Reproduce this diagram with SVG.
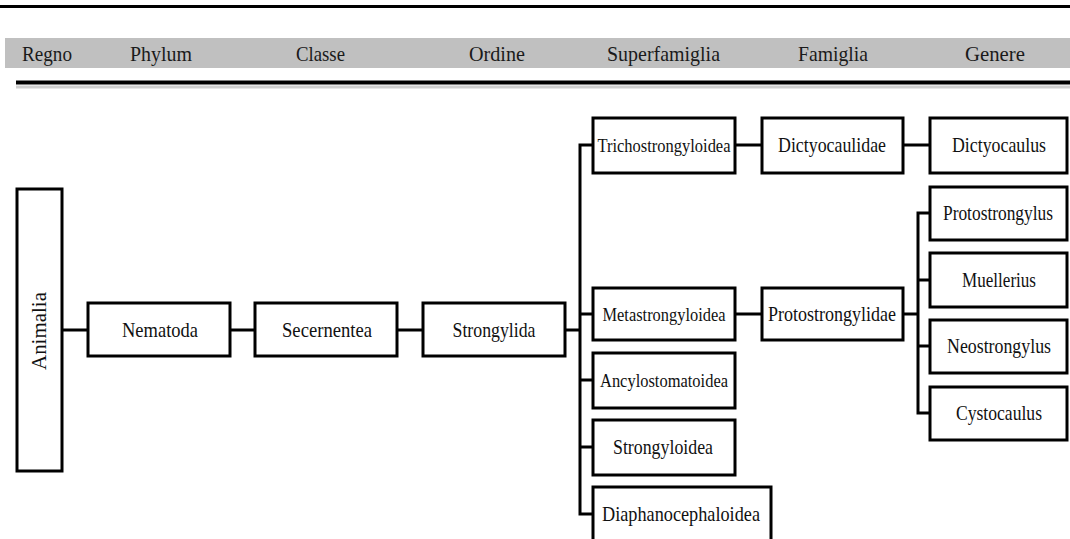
<svg xmlns="http://www.w3.org/2000/svg" width="1070" height="539" viewBox="0 0 1070 539">
<style>
  .box { fill: #ffffff; stroke: #000000; stroke-width: 3; }
  .lbl { font-family: "Liberation Serif", "Times New Roman", serif; font-size: 21px; fill: #111111; text-anchor: middle; }
  .sm { font-size: 19.5px; }
  .hdr { font-family: "Liberation Serif", "Times New Roman", serif; font-size: 22px; fill: #1a1a1a; }
  .con { fill: none; stroke: #000000; stroke-width: 3; stroke-linejoin: miter; }
</style>
<rect x="0" y="0" width="1070" height="539" fill="#ffffff"/>
<g id="header">
  <line x1="0" y1="6.5" x2="1070" y2="6.5" stroke="#000" stroke-width="3"/>
  <rect x="5" y="38" width="1065" height="30" fill="#c0c0c0"/>
  <line x1="16" y1="87" x2="1070" y2="87" stroke="#bbbbbb" stroke-width="3" opacity="0.7"/>
  <line x1="16" y1="82.5" x2="1070" y2="82.5" stroke="#000" stroke-width="4"/>
  <text class="hdr" x="22" y="61" textLength="50" lengthAdjust="spacingAndGlyphs">Regno</text>
  <text class="hdr" x="130" y="61" textLength="62" lengthAdjust="spacingAndGlyphs">Phylum</text>
  <text class="hdr" x="296" y="61" textLength="49" lengthAdjust="spacingAndGlyphs">Classe</text>
  <text class="hdr" x="469" y="61" textLength="56" lengthAdjust="spacingAndGlyphs">Ordine</text>
  <text class="hdr" x="607" y="61" textLength="113" lengthAdjust="spacingAndGlyphs">Superfamiglia</text>
  <text class="hdr" x="798" y="61" textLength="70" lengthAdjust="spacingAndGlyphs">Famiglia</text>
  <text class="hdr" x="965" y="61" textLength="60" lengthAdjust="spacingAndGlyphs">Genere</text>
</g>
<g id="connectors">
  <path class="con" d="M62,330 H88 M230,330 H255 M397,330 H423 M565,330 H580"/>
  <path class="con" d="M593,145 H580 V514 H593 M580,314 H593 M580,380 H593 M580,447 H593"/>
  <path class="con" d="M735,145 H762 M903,145 H930"/>
  <path class="con" d="M735,314 H762 M903,314 H918"/>
  <path class="con" d="M930,213 H918 V413 H930 M918,280 H930 M918,346 H930"/>
</g>
<g id="n-animalia">
  <rect class="box" x="17" y="189" width="45" height="282"/>
  <text class="lbl" transform="translate(46,331) rotate(-90)" x="0" y="0" textLength="78" lengthAdjust="spacingAndGlyphs">Animalia</text>
</g>
<g id="n-nematoda">
  <rect class="box" x="88" y="303" width="142" height="53"/>
  <text class="lbl" x="160" y="337" textLength="76" lengthAdjust="spacingAndGlyphs">Nematoda</text>
</g>
<g id="n-secernentea">
  <rect class="box" x="255" y="303" width="142" height="53"/>
  <text class="lbl" x="327" y="337" textLength="90" lengthAdjust="spacingAndGlyphs">Secernentea</text>
</g>
<g id="n-strongylida">
  <rect class="box" x="423" y="303" width="142" height="53"/>
  <text class="lbl" x="494" y="337" textLength="83" lengthAdjust="spacingAndGlyphs">Strongylida</text>
</g>
<g id="n-trichostrongyloidea">
  <rect class="box" x="593" y="118" width="142" height="55"/>
  <text class="lbl sm" x="664" y="152" textLength="133" lengthAdjust="spacingAndGlyphs">Trichostrongyloidea</text>
</g>
<g id="n-metastrongyloidea">
  <rect class="box" x="593" y="288" width="142" height="52"/>
  <text class="lbl sm" x="664" y="321" textLength="123" lengthAdjust="spacingAndGlyphs">Metastrongyloidea</text>
</g>
<g id="n-ancylostomatoidea">
  <rect class="box" x="593" y="353" width="142" height="55"/>
  <text class="lbl sm" x="664" y="387" textLength="128" lengthAdjust="spacingAndGlyphs">Ancylostomatoidea</text>
</g>
<g id="n-strongyloidea">
  <rect class="box" x="593" y="420" width="142" height="55"/>
  <text class="lbl" x="663" y="454" textLength="100" lengthAdjust="spacingAndGlyphs">Strongyloidea</text>
</g>
<g id="n-diaphanocephaloidea">
  <rect class="box" x="593" y="487" width="178" height="56"/>
  <text class="lbl" x="681" y="521" textLength="158" lengthAdjust="spacingAndGlyphs">Diaphanocephaloidea</text>
</g>
<g id="n-dictyocaulidae">
  <rect class="box" x="762" y="118" width="141" height="55"/>
  <text class="lbl" x="832" y="152" textLength="108" lengthAdjust="spacingAndGlyphs">Dictyocaulidae</text>
</g>
<g id="n-protostrongylidae">
  <rect class="box" x="762" y="288" width="141" height="52"/>
  <text class="lbl" x="832" y="321" textLength="128" lengthAdjust="spacingAndGlyphs">Protostrongylidae</text>
</g>
<g id="n-dictyocaulus">
  <rect class="box" x="930" y="118" width="137" height="55"/>
  <text class="lbl" x="999" y="152" textLength="94" lengthAdjust="spacingAndGlyphs">Dictyocaulus</text>
</g>
<g id="n-protostrongylus">
  <rect class="box" x="930" y="187" width="137" height="53"/>
  <text class="lbl" x="998" y="220" font-size="19" textLength="110" lengthAdjust="spacingAndGlyphs">Protostrongylus</text>
</g>
<g id="n-muellerius">
  <rect class="box" x="930" y="253" width="137" height="54"/>
  <text class="lbl" x="999" y="287" textLength="74" lengthAdjust="spacingAndGlyphs">Muellerius</text>
</g>
<g id="n-neostrongylus">
  <rect class="box" x="930" y="320" width="137" height="53"/>
  <text class="lbl" x="999" y="353" textLength="104" lengthAdjust="spacingAndGlyphs">Neostrongylus</text>
</g>
<g id="n-cystocaulus">
  <rect class="box" x="930" y="387" width="137" height="53"/>
  <text class="lbl" x="999" y="420" textLength="86" lengthAdjust="spacingAndGlyphs">Cystocaulus</text>
</g>
</svg>
